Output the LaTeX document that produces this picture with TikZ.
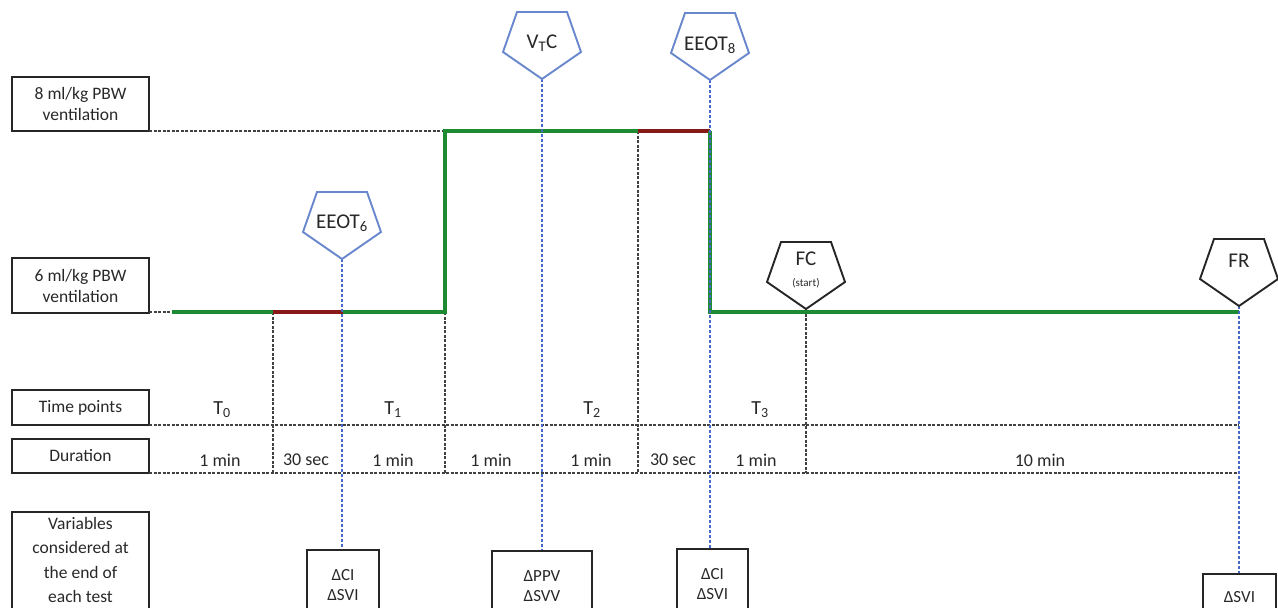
\documentclass[tikz,border=0pt]{standalone}
\usepackage{fontspec}
\setmainfont{Carlito}
\definecolor{lgreen}{RGB}{30,138,50}
\definecolor{lred}{RGB}{135,25,25}
\definecolor{pblue}{RGB}{105,135,205}
\definecolor{dblue}{RGB}{70,105,200}
\definecolor{dgray}{RGB}{65,65,65}
\definecolor{tgray}{RGB}{40,40,40}
\tikzset{
  lbox/.style={draw=black!85, line width=2pt, minimum width=137pt, align=center, font=\fontsize{17.5}{21}\selectfont, text=tgray, inner sep=0pt},
  dbox/.style={draw=black!85, line width=2pt, align=center, font=\fontsize{17}{20}\selectfont, text=tgray, inner sep=0pt, minimum height=70pt},
  blackdash/.style={draw=dgray, line width=2.4pt, dash pattern=on 3pt off 1.5pt},
  bluedash/.style={draw=dblue, line width=1.3pt, dash pattern=on 3pt off 2pt},
  lvl/.style={line width=4pt, draw=lgreen},
  lvlred/.style={line width=4pt, draw=lred},
  pentb/.style={draw=pblue, fill=white, line width=1.9pt, line join=miter},
  pentk/.style={draw=black!85, fill=white, line width=1.9pt, line join=miter},
  ptext/.style={font=\fontsize{21}{24}\selectfont, text=tgray, inner sep=0pt},
  ttext/.style={font=\fontsize{20}{22}\selectfont, text=tgray, inner sep=0pt},
  rtext/.style={font=\fontsize{18}{20}\selectfont, text=tgray, inner sep=0pt},
}
\newcommand{\pentpath}[2]{\path[#1] (#2) ++(-25,-67) -- ++(50,0) -- ++(14,40) -- (#2) -- ++(-39,-27) -- cycle;}
\begin{document}
\begin{tikzpicture}[x=1pt,y=-1pt]
\useasboundingbox (0,0) rectangle (1278,608);
% left label boxes
\node[lbox, minimum height=54pt] (v8) at (80.5,104) {8 ml/kg PBW\\ventilation};
\node[lbox, minimum height=55pt] (v6) at (80.5,285.5) {6 ml/kg PBW\\ventilation};
\node[lbox, minimum height=35pt] (tp) at (80.5,407.5) {Time points};
\node[lbox, minimum height=34pt] (du) at (80.5,456) {Duration};
\node[lbox, minimum height=115pt, anchor=north] (vabox) at (80.5,511) {};
\node[font=\fontsize{17.5}{24.3}\selectfont, text=tgray, align=center, inner sep=0pt] (va) at (80.5,560) {Variables\\considered at\\the end of\\each test};
% key coordinates
\coordinate (a0) at (149,131);
\coordinate (a1) at (445,131);
\coordinate (b0) at (149,312);
\coordinate (g0) at (172,312);
\coordinate (r1) at (273,312);
\coordinate (r2) at (343,312);
\coordinate (s1) at (445,312);
\coordinate (r3) at (638,131);
\coordinate (s2) at (710,131);
\coordinate (s3) at (710,312);
\coordinate (fc) at (806,312);
\coordinate (fr) at (1239,312);
\coordinate (h1l) at (149,425);
\coordinate (h1r) at (1239,425);
\coordinate (h2l) at (149,473);
\coordinate (h2r) at (1239,473);
\coordinate (e1) at (273,473);
\coordinate (e2) at (445,473);
\coordinate (e3) at (638,473);
\coordinate (e4) at (806,473);
% pentagon tips
\coordinate (t6) at (342,259);
\coordinate (tv) at (542,79);
\coordinate (t8) at (710,80);
\coordinate (tf) at (806,309);
\coordinate (tr) at (1239,306);
% black dashed lines
\draw[blackdash] (a0) -- (a1);
\draw[blackdash] (b0) -- (g0);
\draw[blackdash] (h1l) -- (h1r);
\draw[blackdash] (h2l) -- (h2r);
\draw[blackdash] (r1) -- (e1);
\draw[blackdash] (s1) -- (e2);
\draw[blackdash] (r3) -- (e3);
\draw[blackdash] (tf) -- (e4);
% ventilation level line
\draw[lvl] (g0) -- (r1);
\draw[lvlred] (r1) -- (r2);
\draw[lvl, line join=miter] (r2) -- (s1) -- (a1) -- (r3);
\draw[lvlred] (r3) -- (s2);
\draw[lvl, line join=miter] (s2) -- (s3) -- (fr);
% result boxes
\node[dbox, minimum width=72pt] (d1) at (343,585) {ΔCI\\ΔSVI};
\node[dbox, minimum width=100pt] (d2) at (542,586) {ΔPPV\\ΔSVV};
\node[dbox, minimum width=71pt] (d3) at (712.5,584) {ΔCI\\ΔSVI};
\node[dbox, minimum width=73pt, minimum height=46pt] (d4) at (1239.5,597) {ΔSVI};
% blue dashed lines
\draw[bluedash] (t6) -- (d1.north -| t6);
\draw[bluedash] (tv) -- (d2.north -| tv);
\draw[bluedash] (t8) -- (d3.north -| t8);
\draw[bluedash] (tr) -- (d4.north -| tr);
% pentagons
\pentpath{pentb}{t6}
\pentpath{pentb}{tv}
\pentpath{pentb}{t8}
\pentpath{pentk}{tf}
\pentpath{pentk}{tr}
\node[ptext] (p6) at ([yshift=36pt]t6) {EEOT\textsubscript{6}};
\node[ptext] (pv) at ([yshift=36pt]tv) {V\textsubscript{T}C};
\node[ptext] (p8) at ([yshift=35pt]t8) {EEOT\textsubscript{8}};
\node[ptext] (pf) at ([yshift=50pt]tf) {FC};
\node[font=\fontsize{11}{12}\selectfont, text=tgray, inner sep=0pt] (pfs) at ([yshift=26pt]tf) {(start)};
\node[ptext] (pr) at ([yshift=45pt]tr) {FR};
% time point labels
\node[ttext] (T0) at (222,410) {T\textsubscript{0}};
\node[ttext] (T1) at (393,410) {T\textsubscript{1}};
\node[ttext] (T2) at (592,410) {T\textsubscript{2}};
\node[ttext] (T3) at (760,410) {T\textsubscript{3}};
% durations
\node[rtext] (u1) at (220,460) {1 min};
\node[rtext] (u2) at (306,460) {30 sec};
\node[rtext] (u3) at (393,460) {1 min};
\node[rtext] (u4) at (491,460) {1 min};
\node[rtext] (u5) at (591,460) {1 min};
\node[rtext] (u6) at (673,460) {30 sec};
\node[rtext] (u7) at (756,460) {1 min};
\node[rtext] (u8) at (1040,460) {10 min};
\end{tikzpicture}
\end{document}
